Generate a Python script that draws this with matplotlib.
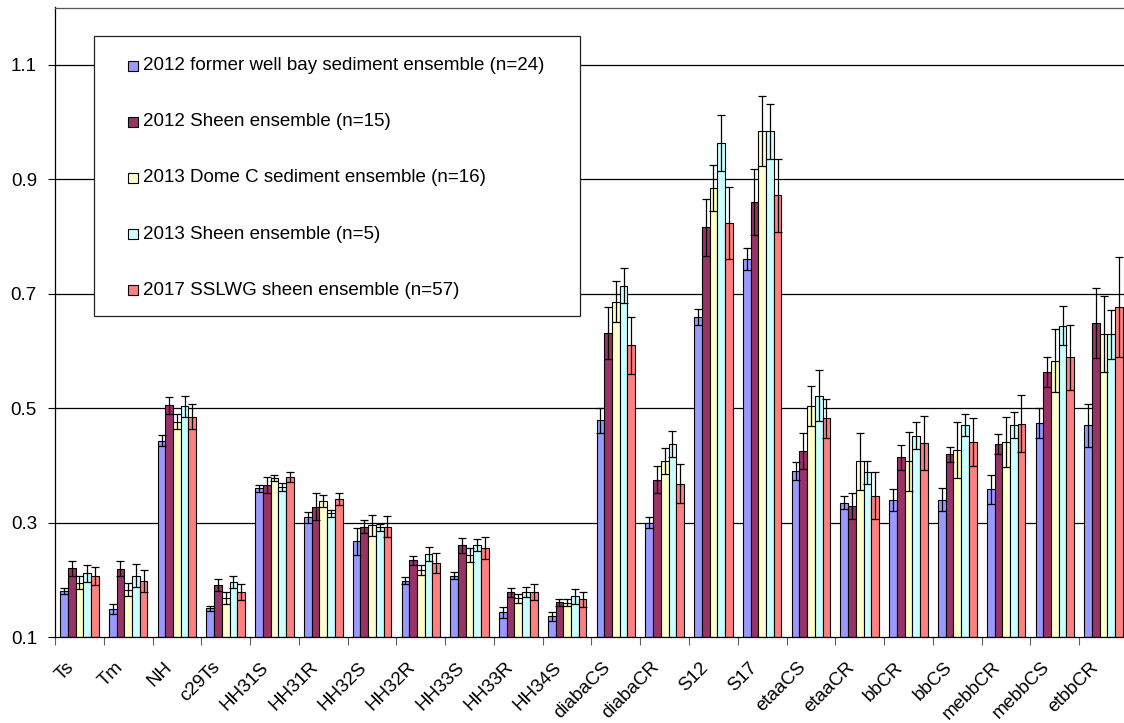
import matplotlib
matplotlib.use("Agg")
import matplotlib.pyplot as plt
from matplotlib.patches import Rectangle
from matplotlib.transforms import ScaledTranslation
import numpy as np

plt.rcParams['font.family'] = ['Liberation Sans', 'DejaVu Sans']

categories = ["Ts", "Tm", "NH", "c29Ts", "HH31S", "HH31R", "HH32S", "HH32R",
              "HH33S", "HH33R", "HH34S", "diabaCS", "diabaCR", "S12", "S17",
              "etaaCS", "etaaCR", "bbCR", "bbCS", "mebbCR", "mebbCS", "etbbCR"]

series_labels = ["2012 former well bay sediment ensemble (n=24)",
                 "2012 Sheen ensemble (n=15)",
                 "2013 Dome C sediment ensemble (n=16)",
                 "2013 Sheen ensemble (n=5)",
                 "2017 SSLWG sheen ensemble (n=57)"]

well_bay_2012 = [0.181, 0.149, 0.443, 0.150, 0.360, 0.309, 0.267, 0.198, 0.207, 0.143, 0.136,
                 0.479, 0.300, 0.660, 0.761, 0.390, 0.335, 0.340, 0.340, 0.358, 0.474, 0.470]
well_bay_2012_err = [0.005, 0.009, 0.010, 0.005, 0.006, 0.010, 0.023, 0.006, 0.006, 0.009, 0.008,
                     0.022, 0.010, 0.014, 0.019, 0.016, 0.012, 0.019, 0.020, 0.025, 0.026, 0.038]

sheen_2012 = [0.220, 0.219, 0.505, 0.191, 0.365, 0.328, 0.293, 0.234, 0.260, 0.178, 0.161,
              0.631, 0.375, 0.816, 0.860, 0.425, 0.329, 0.414, 0.419, 0.437, 0.563, 0.649]
sheen_2012_err = [0.013, 0.013, 0.015, 0.011, 0.014, 0.023, 0.012, 0.008, 0.013, 0.008, 0.006,
                  0.046, 0.024, 0.050, 0.057, 0.032, 0.022, 0.022, 0.013, 0.018, 0.027, 0.061]

dome_c_2013 = [0.195, 0.183, 0.476, 0.168, 0.378, 0.338, 0.295, 0.217, 0.243, 0.168, 0.160,
               0.686, 0.407, 0.885, 0.984, 0.503, 0.407, 0.407, 0.427, 0.441, 0.583, 0.629]
dome_c_2013_err = [0.011, 0.012, 0.013, 0.010, 0.005, 0.010, 0.019, 0.009, 0.012, 0.008, 0.006,
                   0.036, 0.023, 0.040, 0.061, 0.035, 0.050, 0.052, 0.049, 0.044, 0.055, 0.066]

sheen_2013 = [0.211, 0.207, 0.503, 0.196, 0.362, 0.316, 0.292, 0.245, 0.261, 0.179, 0.171,
              0.714, 0.437, 0.964, 0.984, 0.522, 0.388, 0.452, 0.471, 0.470, 0.644, 0.629]
sheen_2013_err = [0.015, 0.020, 0.019, 0.010, 0.007, 0.006, 0.006, 0.012, 0.010, 0.009, 0.013,
                  0.030, 0.023, 0.049, 0.048, 0.045, 0.020, 0.023, 0.019, 0.023, 0.034, 0.043]

sslwg_2017 = [0.206, 0.198, 0.485, 0.178, 0.380, 0.341, 0.293, 0.229, 0.255, 0.179, 0.166,
              0.610, 0.368, 0.823, 0.872, 0.482, 0.347, 0.439, 0.441, 0.473, 0.589, 0.677]
sslwg_2017_err = [0.016, 0.019, 0.022, 0.014, 0.009, 0.010, 0.018, 0.018, 0.019, 0.014, 0.013,
                  0.050, 0.034, 0.063, 0.064, 0.034, 0.041, 0.047, 0.042, 0.050, 0.057, 0.087]

y_ticks = [0.1, 0.3, 0.5, 0.7, 0.9, 1.1]

series = [well_bay_2012, sheen_2012, dome_c_2013, sheen_2013, sslwg_2017]
errors = [well_bay_2012_err, sheen_2012_err, dome_c_2013_err, sheen_2013_err, sslwg_2017_err]
colors = ["#9999FF", "#993366", "#FFFFCC", "#CCFFFF", "#FF8080"]

W, H = 1124, 723
fig = plt.figure(figsize=(W / 100, H / 100), dpi=100)

# axes placed in pixel units: left 55, right 1128, top 7, bottom 637
ax_l, ax_r, ax_t, ax_b = 55, 1128, 7.5, 637
ax = fig.add_axes([ax_l / W, 1 - ax_b / H, (ax_r - ax_l) / W, (ax_b - ax_t) / H])

FS = 13.5
x = np.arange(len(categories))
bw = 0.158
for k, (vals, errs, col) in enumerate(zip(series, errors, colors)):
    ax.bar(x + (k - 2) * bw, np.array(vals) - 0.1, bw, bottom=0.1, color=col,
           edgecolor="black", linewidth=0.8, zorder=2)
    ax.errorbar(x + (k - 2) * bw, vals, yerr=errs, fmt="none", ecolor="black",
                elinewidth=0.9, capsize=3.0, capthick=0.9, zorder=3)

ax.set_xlim(-0.5, len(categories) - 0.5)
ax.set_ylim(0.1, 1.2)
ax.set_yticks(y_ticks)
ax.set_yticklabels([f"{v:.1f}" for v in y_ticks], fontsize=FS)
ax.tick_params(axis="y", length=5, width=0.8, pad=8, color="black")

ax.set_xticks(np.arange(len(categories) + 1) - 0.5)
ax.set_xticklabels([])
ax.tick_params(axis="x", which="major", length=6, width=0.8, color="#606060")
ax.set_xticks(x, minor=True)
ax.set_xticklabels(categories, minor=True, fontsize=FS)
ax.tick_params(axis="x", which="minor", length=0, pad=20)
shift = ScaledTranslation(-8 / 100, 0, fig.dpi_scale_trans)
for lab in ax.get_xticklabels(minor=True):
    lab.set_rotation(45)
    lab.set_ha("right")
    lab.set_va("center")
    lab.set_rotation_mode("anchor")
    lab.set_transform(lab.get_transform() + shift)

for v in y_ticks[1:]:
    ax.axhline(v, color="black", linewidth=0.9, zorder=1)

ax.spines["right"].set_visible(False)
ax.spines["top"].set_color("#555555")
ax.spines["left"].set_color("black")
ax.spines["bottom"].set_color("black")
for s in ax.spines.values():
    s.set_linewidth(0.9)


def px(xp, yp):
    return xp / W, 1 - yp / H


# legend box drawn in figure pixel coordinates
lx0, ly0, lx1, ly1 = 93.5, 36, 580, 316
fig.patches.append(Rectangle(px(lx0, ly1), (lx1 - lx0) / W, (ly1 - ly0) / H,
                             transform=fig.transFigure, facecolor="white",
                             edgecolor="#222222", linewidth=0.9, zorder=5))
for i, (lab, col) in enumerate(zip(series_labels, colors)):
    yc = 65.5 + 56.2 * i
    fig.patches.append(Rectangle(px(128, yc + 5), 10 / W, 10 / H,
                                 transform=fig.transFigure, facecolor=col,
                                 edgecolor="black", linewidth=0.8, zorder=6))
    fig.text(*px(143, yc), lab, fontsize=FS, ha="left", va="center", zorder=7)

fig.savefig("out.png", dpi=100)
